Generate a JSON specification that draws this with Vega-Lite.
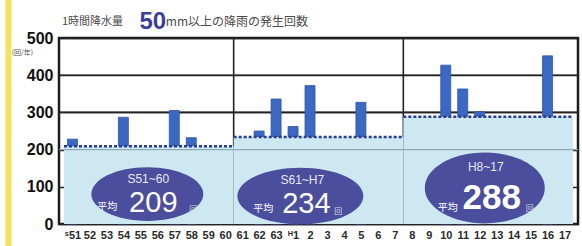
{
  "$schema": "https://vega.github.io/schema/vega-lite/v6.json",
  "width": 519,
  "height": 186,
  "autosize": {"type": "none"},
  "padding": {"left": 59, "top": 38, "right": 4, "bottom": 22},
  "background": "#ffffff",
  "config": {
    "view": {"stroke": "#1c1c1c", "strokeWidth": 2.5},
    "font": "Liberation Sans",
    "axis": {"title": null},
    "axisX": {"tickCount": 30, "labelOverlap": false, "labelFlush": false, "grid": false, "domain": false, "ticks": false,
              "labelFont": "Liberation Sans", "labelFontSize": 11, "labelFontWeight": "bold", "labelColor": "#2a2a2a", "labelPadding": 5},
    "axisY": {"tickCount": 10, "labelOverlap": false, "labelFlush": false, "grid": true, "gridColor": "#222222", "gridWidth": 1.6, "gridOpacity": 1,
              "domain": false, "ticks": false, "labelFont": "Liberation Sans", "labelFontSize": 16, "labelFontWeight": "bold", "labelColor": "#111111", "labelPadding": 6}
  },
  "datasets": {
    "bars": [
      {"year": "S51", "i": 0, "count": 228},
      {"year": "S54", "i": 3, "count": 287},
      {"year": "S57", "i": 6, "count": 305},
      {"year": "S58", "i": 7, "count": 232},
      {"year": "S62", "i": 11, "count": 250},
      {"year": "S63", "i": 12, "count": 336},
      {"year": "H1", "i": 13, "count": 262},
      {"year": "H2", "i": 14, "count": 372},
      {"year": "H5", "i": 17, "count": 327},
      {"year": "H10", "i": 22, "count": 427},
      {"year": "H11", "i": 23, "count": 363},
      {"year": "H12", "i": 24, "count": 302},
      {"year": "H16", "i": 28, "count": 452}
    ],
    "periods": [
      {"period": "S51~60", "start": -0.5, "end": 9.5, "avg": 209},
      {"period": "S61~H7", "start": 9.5, "end": 19.5, "avg": 234},
      {"period": "H8~17", "start": 19.5, "end": 29.5, "avg": 288}
    ],
    "gridlines": [{"v": 300}, {"v": 400}],
    "one": [{"note": "annotation"}]
  },
  "layer": [
    {
      "data": {"name": "gridlines"},
      "mark": {"type": "rule", "color": "#222222", "strokeWidth": 1.6},
      "encoding": {
        "y": {"field": "v", "type": "quantitative", "scale": {"domain": [0, 500], "nice": false},
              "axis": {"values": [0, 100, 200, 300, 400, 500], "tickCount": 10, "labelOverlap": false}}
      }
    },
    {
      "data": {"name": "bars"},
      "mark": {"type": "bar", "width": 10, "color": "#3b68c2", "stroke": "#2d55a8", "strokeWidth": 0.8},
      "encoding": {
        "x": {
          "field": "i", "type": "quantitative",
          "scale": {"domain": [-0.5, 29.5], "nice": false, "zero": false},
          "axis": {"values": [0,1,2,3,4,5,6,7,8,9,10,11,12,13,14,15,16,17,18,19,20,21,22,23,24,25,26,27,28,29], "tickCount": 30, "labelOverlap": false,
                   "labelExpr": "datum.value == 0 ? 'ˢ51' : datum.value < 13 ? '' + (51 + datum.value) : datum.value == 13 ? 'ᴴ1' : '' + (datum.value - 12)"}
        },
        "y": {
          "field": "count", "type": "quantitative",
          "scale": {"domain": [0, 500], "nice": false},
          "axis": {"values": [0, 100, 200, 300, 400, 500], "tickCount": 10, "labelOverlap": false}
        }
      }
    },
    {
      "data": {"name": "one"},
      "mark": {"type": "rect", "color": "#f2e25c", "clip": false},
      "encoding": {
        "x": {"datum": -3.95, "type": "quantitative", "scale": {"domain": [-0.5, 29.5], "nice": false, "zero": false},
              "axis": {"values": [0,1,2,3,4,5,6,7,8,9,10,11,12,13,14,15,16,17,18,19,20,21,22,23,24,25,26,27,28,29], "tickCount": 30, "labelOverlap": false,
                       "labelExpr": "datum.value == 0 ? 'ˢ51' : datum.value < 13 ? '' + (51 + datum.value) : datum.value == 13 ? 'ᴴ1' : '' + (datum.value - 12)"}},
        "x2": {"datum": -3.6},
        "y": {"datum": -70, "type": "quantitative", "scale": {"domain": [0, 500], "nice": false},
              "axis": {"values": [0, 100, 200, 300, 400, 500], "tickCount": 10, "labelOverlap": false}},
        "y2": {"datum": 620}
      }
    },
    {
      "data": {"name": "periods"},
      "transform": [{"filter": "datum.start > 0"}],
      "mark": {"type": "rule", "color": "#222222", "strokeWidth": 1.6},
      "encoding": {
        "x": {"field": "start", "type": "quantitative", "scale": {"domain": [-0.5, 29.5], "nice": false, "zero": false},
              "axis": {"values": [0,1,2,3,4,5,6,7,8,9,10,11,12,13,14,15,16,17,18,19,20,21,22,23,24,25,26,27,28,29], "tickCount": 30, "labelOverlap": false,
                       "labelExpr": "datum.value == 0 ? 'ˢ51' : datum.value < 13 ? '' + (51 + datum.value) : datum.value == 13 ? 'ᴴ1' : '' + (datum.value - 12)"}}
      }
    },
    {
      "data": {"name": "periods"},
      "mark": {"type": "rect", "color": "#cde8f1"},
      "encoding": {
        "x": {"field": "start", "type": "quantitative", "scale": {"domain": [-0.5, 29.5], "nice": false, "zero": false},
              "axis": {"values": [0,1,2,3,4,5,6,7,8,9,10,11,12,13,14,15,16,17,18,19,20,21,22,23,24,25,26,27,28,29], "tickCount": 30, "labelOverlap": false,
                       "labelExpr": "datum.value == 0 ? 'ˢ51' : datum.value < 13 ? '' + (51 + datum.value) : datum.value == 13 ? 'ᴴ1' : '' + (datum.value - 12)"}},
        "x2": {"field": "end"},
        "y": {"field": "avg", "type": "quantitative", "scale": {"domain": [0, 500], "nice": false},
              "axis": {"values": [0, 100, 200, 300, 400, 500], "tickCount": 10, "labelOverlap": false}},
        "y2": {"datum": 0}
      }
    },
    {
      "data": {"name": "one"},
      "mark": {"type": "rule", "color": "#8fa9b6", "strokeWidth": 1.4},
      "encoding": {
        "y": {"datum": 200, "type": "quantitative", "scale": {"domain": [0, 500], "nice": false},
              "axis": {"values": [0, 100, 200, 300, 400, 500], "tickCount": 10, "labelOverlap": false}}
      }
    },
    {
      "data": {"name": "periods"},
      "mark": {"type": "rule", "color": "#2a3d8f", "strokeWidth": 2.5, "strokeDash": [3, 2]},
      "encoding": {
        "x": {"field": "start", "type": "quantitative", "scale": {"domain": [-0.5, 29.5], "nice": false, "zero": false},
              "axis": {"values": [0,1,2,3,4,5,6,7,8,9,10,11,12,13,14,15,16,17,18,19,20,21,22,23,24,25,26,27,28,29], "tickCount": 30, "labelOverlap": false,
                       "labelExpr": "datum.value == 0 ? 'ˢ51' : datum.value < 13 ? '' + (51 + datum.value) : datum.value == 13 ? 'ᴴ1' : '' + (datum.value - 12)"}},
        "x2": {"field": "end"},
        "y": {"field": "avg", "type": "quantitative", "scale": {"domain": [0, 500], "nice": false},
              "axis": {"values": [0, 100, 200, 300, 400, 500], "tickCount": 10, "labelOverlap": false}}
      }
    },
    {
      "data": {"name": "periods"},
      "transform": [{"filter": "datum.period === 'S51~60'"}],
      "encoding": {
        "x": {"datum": 4.41, "type": "quantitative", "scale": {"domain": [-0.5, 29.5], "nice": false, "zero": false},
              "axis": {"values": [0,1,2,3,4,5,6,7,8,9,10,11,12,13,14,15,16,17,18,19,20,21,22,23,24,25,26,27,28,29], "tickCount": 30, "labelOverlap": false,
                       "labelExpr": "datum.value == 0 ? 'ˢ51' : datum.value < 13 ? '' + (51 + datum.value) : datum.value == 13 ? 'ᴴ1' : '' + (datum.value - 12)"}},
        "y": {"datum": 80.6, "type": "quantitative", "scale": {"domain": [0, 500], "nice": false},
              "axis": {"values": [0, 100, 200, 300, 400, 500], "tickCount": 10, "labelOverlap": false}}
      },
      "layer": [
        {"mark": {"type": "point", "shape": "M-1,0A1,0.48,0,1,1,1,0A1,0.48,0,1,1,-1,0Z", "size": 12544, "filled": true, "fill": "#4b4d9d", "opacity": 1, "strokeWidth": 0}},
        {"mark": {"type": "text", "dx": 1, "dy": -15, "fontSize": 12, "fill": "#e8e8f6", "font": "Liberation Sans"}, "encoding": {"text": {"field": "period"}}},
        {"mark": {"type": "text", "dx": 6, "dy": 9, "fontSize": 29, "fill": "#ffffff", "font": "Liberation Sans"}, "encoding": {"text": {"field": "avg"}}},
        {"mark": {"type": "text", "text": "平均", "dx": -40, "dy": 13, "fontSize": 10, "fill": "#ffffff", "font": "Noto Sans CJK JP"}},
        {"mark": {"type": "text", "text": "回", "dx": 46, "dy": 16, "fontSize": 8, "fill": "#d8d8e8", "font": "Noto Sans CJK JP"}}
      ]
    },
    {
      "data": {"name": "periods"},
      "transform": [{"filter": "datum.period === 'S61~H7'"}],
      "encoding": {
        "x": {"datum": 13.43, "type": "quantitative", "scale": {"domain": [-0.5, 29.5], "nice": false, "zero": false},
              "axis": {"values": [0,1,2,3,4,5,6,7,8,9,10,11,12,13,14,15,16,17,18,19,20,21,22,23,24,25,26,27,28,29], "tickCount": 30, "labelOverlap": false,
                       "labelExpr": "datum.value == 0 ? 'ˢ51' : datum.value < 13 ? '' + (51 + datum.value) : datum.value == 13 ? 'ᴴ1' : '' + (datum.value - 12)"}},
        "y": {"datum": 75, "type": "quantitative", "scale": {"domain": [0, 500], "nice": false},
              "axis": {"values": [0, 100, 200, 300, 400, 500], "tickCount": 10, "labelOverlap": false}}
      },
      "layer": [
        {"mark": {"type": "point", "shape": "M-1,0A1,0.45,0,1,1,1,0A1,0.45,0,1,1,-1,0Z", "size": 15876, "filled": true, "fill": "#4b4d9d", "opacity": 1, "strokeWidth": 0}},
        {"mark": {"type": "text", "dx": 2, "dy": -16, "fontSize": 12, "fill": "#e8e8f6", "font": "Liberation Sans"}, "encoding": {"text": {"field": "period"}}},
        {"mark": {"type": "text", "dx": 6, "dy": 8, "fontSize": 29, "fill": "#ffffff", "font": "Liberation Sans"}, "encoding": {"text": {"field": "avg"}}},
        {"mark": {"type": "text", "text": "平均", "dx": -37, "dy": 13, "fontSize": 10, "fill": "#ffffff", "font": "Noto Sans CJK JP"}},
        {"mark": {"type": "text", "text": "回", "dx": 38, "dy": 16, "fontSize": 8, "fill": "#d8d8e8", "font": "Noto Sans CJK JP"}}
      ]
    },
    {
      "data": {"name": "periods"},
      "transform": [{"filter": "datum.period === 'H8~17'"}],
      "encoding": {
        "x": {"datum": 24.3, "type": "quantitative", "scale": {"domain": [-0.5, 29.5], "nice": false, "zero": false},
              "axis": {"values": [0,1,2,3,4,5,6,7,8,9,10,11,12,13,14,15,16,17,18,19,20,21,22,23,24,25,26,27,28,29], "tickCount": 30, "labelOverlap": false,
                       "labelExpr": "datum.value == 0 ? 'ˢ51' : datum.value < 13 ? '' + (51 + datum.value) : datum.value == 13 ? 'ᴴ1' : '' + (datum.value - 12)"}},
        "y": {"datum": 96.8, "type": "quantitative", "scale": {"domain": [0, 500], "nice": false},
              "axis": {"values": [0, 100, 200, 300, 400, 500], "tickCount": 10, "labelOverlap": false}}
      },
      "layer": [
        {"mark": {"type": "point", "shape": "M-1,0A1,0.59,0,1,1,1,0A1,0.59,0,1,1,-1,0Z", "size": 14400, "filled": true, "fill": "#4b4d9d", "opacity": 1, "strokeWidth": 0}},
        {"mark": {"type": "text", "dx": 1, "dy": -21, "fontSize": 12, "fill": "#e8e8f6", "font": "Liberation Sans"}, "encoding": {"text": {"field": "period"}}},
        {"mark": {"type": "text", "dx": 7, "dy": 10, "fontSize": 35, "fontWeight": "bold", "fill": "#ffffff", "font": "Liberation Sans"}, "encoding": {"text": {"field": "avg"}}},
        {"mark": {"type": "text", "text": "平均", "dx": -37, "dy": 20, "fontSize": 10, "fill": "#ffffff", "font": "Noto Sans CJK JP"}},
        {"mark": {"type": "text", "text": "回", "dx": 45, "dy": 21, "fontSize": 8, "fill": "#d8d8e8", "font": "Noto Sans CJK JP"}}
      ]
    },
    {
      "data": {"name": "one"},
      "encoding": {
        "y": {"datum": 543, "type": "quantitative", "scale": {"domain": [0, 500], "nice": false},
              "axis": {"values": [0, 100, 200, 300, 400, 500], "tickCount": 10, "labelOverlap": false}}
      },
      "layer": [
        {"mark": {"type": "text", "text": "1時間降水量", "align": "left", "fontSize": 11, "fill": "#4a4a4a", "font": "Noto Sans CJK JP"},
         "encoding": {"x": {"datum": -0.62, "type": "quantitative", "scale": {"domain": [-0.5, 29.5], "nice": false, "zero": false},
              "axis": {"values": [0,1,2,3,4,5,6,7,8,9,10,11,12,13,14,15,16,17,18,19,20,21,22,23,24,25,26,27,28,29], "tickCount": 30, "labelOverlap": false,
                       "labelExpr": "datum.value == 0 ? 'ˢ51' : datum.value < 13 ? '' + (51 + datum.value) : datum.value == 13 ? 'ᴴ1' : '' + (datum.value - 12)"}}}},
        {"mark": {"type": "text", "text": "50", "align": "left", "fontSize": 24, "fontWeight": "bold", "fill": "#3b3f9c", "font": "Liberation Sans"},
         "encoding": {"x": {"datum": 3.95, "type": "quantitative", "scale": {"domain": [-0.5, 29.5], "nice": false, "zero": false},
              "axis": {"values": [0,1,2,3,4,5,6,7,8,9,10,11,12,13,14,15,16,17,18,19,20,21,22,23,24,25,26,27,28,29], "tickCount": 30, "labelOverlap": false,
                       "labelExpr": "datum.value == 0 ? 'ˢ51' : datum.value < 13 ? '' + (51 + datum.value) : datum.value == 13 ? 'ᴴ1' : '' + (datum.value - 12)"}}}},
        {"mark": {"type": "text", "text": "mm以上の降雨の発生回数", "align": "left", "fontSize": 12, "fill": "#4a4a4a", "font": "Noto Sans CJK JP"},
         "encoding": {"x": {"datum": 5.5, "type": "quantitative", "scale": {"domain": [-0.5, 29.5], "nice": false, "zero": false},
              "axis": {"values": [0,1,2,3,4,5,6,7,8,9,10,11,12,13,14,15,16,17,18,19,20,21,22,23,24,25,26,27,28,29], "tickCount": 30, "labelOverlap": false,
                       "labelExpr": "datum.value == 0 ? 'ˢ51' : datum.value < 13 ? '' + (51 + datum.value) : datum.value == 13 ? 'ᴴ1' : '' + (datum.value - 12)"}}}}
      ]
    },
    {
      "data": {"name": "one"},
      "mark": {"type": "text", "text": "(回/年)", "fontSize": 7, "fill": "#555555", "font": "Noto Sans CJK JP"},
      "encoding": {
        "x": {"datum": -2.95, "type": "quantitative", "scale": {"domain": [-0.5, 29.5], "nice": false, "zero": false},
              "axis": {"values": [0,1,2,3,4,5,6,7,8,9,10,11,12,13,14,15,16,17,18,19,20,21,22,23,24,25,26,27,28,29], "tickCount": 30, "labelOverlap": false,
                       "labelExpr": "datum.value == 0 ? 'ˢ51' : datum.value < 13 ? '' + (51 + datum.value) : datum.value == 13 ? 'ᴴ1' : '' + (datum.value - 12)"}},
        "y": {"datum": 460, "type": "quantitative", "scale": {"domain": [0, 500], "nice": false},
              "axis": {"values": [0, 100, 200, 300, 400, 500], "tickCount": 10, "labelOverlap": false}}
      }
    }
  ]
}
